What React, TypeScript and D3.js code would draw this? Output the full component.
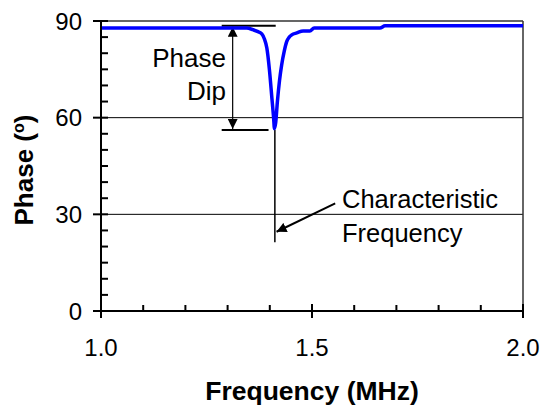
import React from "react";
import * as d3 from "d3";

const freq = [1.0, 1.1, 1.2, 1.3, 1.33, 1.345, 1.36, 1.372, 1.381, 1.387, 1.393, 1.399, 1.405, 1.409, 1.411, 1.414, 1.418, 1.423, 1.428, 1.434, 1.44, 1.446, 1.452, 1.464, 1.479, 1.495, 1.505, 1.55, 1.6, 1.661, 1.673, 1.75, 1.85, 2.0];
const phase = [87.8, 87.8, 87.8, 87.8, 87.8, 87.8, 87.3, 86.7, 86.0, 84.5, 81.6, 75.0, 66.0, 60.0, 56.6, 58.5, 65.0, 71.5, 76.3, 80.5, 83.6, 85.0, 85.7, 86.3, 86.9, 86.9, 87.8, 87.8, 87.8, 87.8, 88.5, 88.5, 88.5, 88.5];

const xTicks = [1.0, 1.5, 2.0];
const xTickLabels = ["1.0", "1.5", "2.0"];
const xMinor = [1.1, 1.2, 1.3, 1.4, 1.6, 1.7, 1.8, 1.9];
const yTicks = [0, 30, 60, 90];
const yMinor = [5, 10, 15, 20, 25, 35, 40, 45, 50, 55, 65, 70, 75, 80, 85];
const gridY = [30, 60];

const dipTop = 88.5;
const dipBottom = 56.2;
const dipLeft = 1.286;
const dipTopRight = 1.414;
const dipBottomRight = 1.397;
const dipArrowX = 1.312;
const charFreq = 1.412;
const charLineBottom = 21.3;

const FONT = "'Liberation Sans', Arial, sans-serif";

export default function App() {
  const x = d3.scaleLinear().domain([1, 2]).range([101, 523]);
  const y = d3.scaleLinear().domain([0, 90]).range([311, 21]);
  const pts: [number, number][] = freq.map((f, i) => [f, phase[i]]);
  const line = d3
    .line<[number, number]>()
    .x((d) => x(d[0]))
    .y((d) => y(d[1]))
    .curve(d3.curveMonotoneX);

  const arrowStart = [x(1.555), y(33.4)];
  const arrowEnd = [x(1.416), y(24.6)];

  return (
    <svg
      width={542}
      height={411}
      style={{ position: "absolute", left: 0, top: 0, background: "#fff" }}
      fontFamily={FONT}
    >
      <defs>
        <marker id="ah" viewBox="0 0 10 10" refX="10" refY="5" markerWidth="10" markerHeight="10" markerUnits="userSpaceOnUse" orient="auto-start-reverse">
          <path d="M0,0 L10,5 L0,10 Z" fill="#000" />
        </marker>
      </defs>
      <rect x={0} y={0} width={542} height={411} fill="#fff" />
      {gridY.map((v) => (
        <line key={v} x1={x(1)} x2={x(2)} y1={y(v)} y2={y(v)} stroke="#000" strokeWidth={1} />
      ))}
      <line x1={x(1)} x2={x(2)} y1={y(90)} y2={y(90)} stroke="#333" strokeWidth={1.5} />
      <line x1={x(2)} x2={x(2)} y1={y(90)} y2={y(0)} stroke="#333" strokeWidth={1.5} />

      <line x1={x(dipLeft)} x2={x(dipTopRight)} y1={y(dipTop)} y2={y(dipTop)} stroke="#000" strokeWidth={2} />
      <line x1={x(dipLeft)} x2={x(dipBottomRight)} y1={y(dipBottom)} y2={y(dipBottom)} stroke="#000" strokeWidth={2} />
      <line
        x1={x(dipArrowX)}
        x2={x(dipArrowX)}
        y1={y(dipTop) + 1}
        y2={y(dipBottom) - 1}
        stroke="#000"
        strokeWidth={1.2}
        markerStart="url(#ah)"
        markerEnd="url(#ah)"
      />
      <text x={226} y={67} fontSize={26} textAnchor="end">Phase</text>
      <text x={226} y={100} fontSize={26} textAnchor="end">Dip</text>

      <line x1={x(charFreq)} x2={x(charFreq)} y1={y(dipBottom)} y2={y(charLineBottom)} stroke="#000" strokeWidth={1.5} />
      <line
        x1={arrowStart[0]}
        y1={arrowStart[1]}
        x2={arrowEnd[0]}
        y2={arrowEnd[1]}
        stroke="#000"
        strokeWidth={2}
        markerEnd="url(#ah)"
      />
      <text x={342} y={208} fontSize={25.5}>Characteristic</text>
      <text x={342} y={242} fontSize={25.5}>Frequency</text>

      <path d={line(pts) || ""} fill="none" stroke="#0000ff" strokeWidth={3.5} strokeLinejoin="round" />

      <line x1={x(1)} x2={x(1)} y1={y(90)} y2={y(0)} stroke="#000" strokeWidth={2} />
      <line x1={x(1)} x2={x(2)} y1={y(0)} y2={y(0)} stroke="#000" strokeWidth={2} />
      {yTicks.map((v) => (
        <g key={"yt" + v}>
          <line x1={x(1) - 8} x2={x(1) + 7} y1={y(v)} y2={y(v)} stroke="#000" strokeWidth={2} />
          <text x={82} y={y(v) + 8.5} fontSize={24} textAnchor="end">{v}</text>
        </g>
      ))}
      {yMinor.map((v) => (
        <line key={"ym" + v} x1={x(1)} x2={x(1) + 7} y1={y(v)} y2={y(v)} stroke="#000" strokeWidth={2} />
      ))}
      {xTicks.map((v, i) => (
        <g key={"xt" + v}>
          <line x1={x(v)} x2={x(v)} y1={y(0) - 7} y2={y(0) + 7} stroke="#000" strokeWidth={2} />
          <text x={x(v)} y={356} fontSize={24} textAnchor="middle">{xTickLabels[i]}</text>
        </g>
      ))}
      {xMinor.map((v) => (
        <line key={"xm" + v} x1={x(v)} x2={x(v)} y1={y(0) - 6} y2={y(0)} stroke="#000" strokeWidth={2} />
      ))}

      <text x={312} y={400} fontSize={26.5} fontWeight="bold" textAnchor="middle">Frequency (MHz)</text>
      <text transform="translate(33,170) rotate(-90)" fontSize={26} fontWeight="bold" textAnchor="middle">
        Phase (<tspan fontSize={16} dy={-9}>o</tspan><tspan dy={9}>)</tspan>
      </text>
    </svg>
  );
}
